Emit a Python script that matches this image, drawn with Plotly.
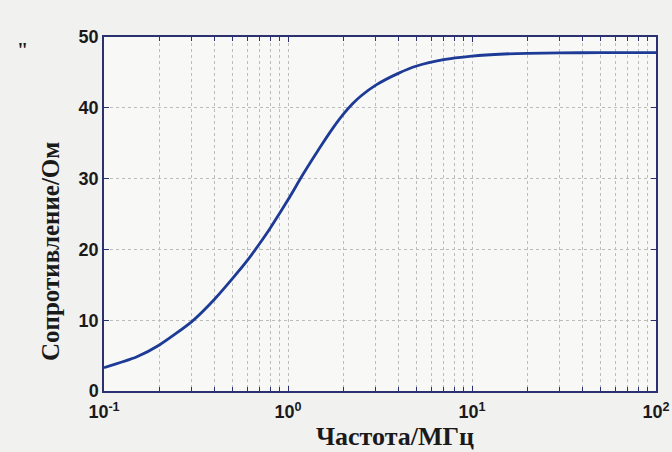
import plotly.graph_objects as go

freq_mhz = [0.1, 0.15, 0.2, 0.3, 0.4, 0.5, 0.6, 0.7, 0.8, 1.0, 1.2, 1.5, 1.75, 2.0,
            2.25, 2.5, 3.0, 4.0, 5.0, 7.0, 10, 15, 20, 30, 50, 100]
resist_ohm = [3.3, 4.8, 6.5, 9.8, 13.0, 15.9, 18.4, 20.8, 23.0, 27.0, 30.5, 34.5,
              37.1, 39.1, 40.6, 41.7, 43.2, 44.9, 45.9, 46.8, 47.3, 47.6, 47.7, 47.75,
              47.8, 47.8]

x_tickvals = [0.1, 1, 10, 100]
x_ticktext = ["10<sup>-1</sup>", "10<sup>0</sup>", "10<sup>1</sup>", "10<sup>2</sup>"]
x_minor = [m * d for d in [0.1, 1, 10] for m in range(2, 10)]
y_tickvals = [0, 10, 20, 30, 40, 50]

x_title = "Частота/МГц"
y_title = "Сопротивление/Ом"

frame = "#2b3070"
grid = "#bcbcbc"
serif = "Liberation Serif, Times New Roman, serif"
sans = "Liberation Sans, Arial, sans-serif"

fig = go.Figure()
fig.add_trace(go.Scatter(
    x=freq_mhz, y=resist_ohm, mode="lines",
    line=dict(color="#1c3a96", width=2.8, shape="spline", smoothing=0.6),
    showlegend=False, hoverinfo="skip"))

fig.update_layout(
    width=672, height=452,
    margin=dict(l=104, r=16, t=37, b=61),
    paper_bgcolor="#f1f1ef", plot_bgcolor="#f8f8f6",
    font=dict(family=sans, color="#1a1a1a"),
    xaxis=dict(
        type="log", range=[-1, 2],
        tickvals=x_tickvals, ticktext=x_ticktext,
        tickfont=dict(size=18, family=sans, weight="bold"),
        ticks="inside", ticklen=5, tickcolor=frame, ticklabelstandoff=4,
        showline=True, linecolor=frame, linewidth=1.5, mirror="ticks",
        showgrid=True, gridcolor=grid, griddash="dot", gridwidth=1,
        minor=dict(tickvals=x_minor, ticks="inside", ticklen=4, tickcolor=frame,
                   showgrid=True, gridcolor=grid, griddash="dot", gridwidth=1),
        zeroline=False, automargin=False,
    ),
    yaxis=dict(
        range=[0, 50], tickvals=y_tickvals,
        tickfont=dict(size=18, family=sans, weight="bold"),
        ticks="inside", ticklen=5, tickcolor=frame,
        showline=True, linecolor=frame, linewidth=1.5, mirror="ticks",
        showgrid=True, gridcolor=grid, griddash="dot", gridwidth=1,
        zeroline=False, automargin=False,
    ),
)

# axis titles (placed as annotations to match the reference offsets)
fig.add_annotation(text="<b>" + x_title + "</b>", xref="paper", yref="paper",
                   x=(395 - 104) / 552, y=(391 - 436) / 354,
                   xanchor="center", yanchor="middle", showarrow=False,
                   font=dict(size=26, family=serif, color="#1a1a1a"))
fig.add_annotation(text="<b>" + y_title + "</b>", xref="paper", yref="paper",
                   x=(50 - 104) / 552, y=(391 - 252) / 354, textangle=-90,
                   xanchor="center", yanchor="middle", showarrow=False,
                   font=dict(size=25, family=serif, color="#1a1a1a"))
fig.add_annotation(text="<b>\"</b>", xref="paper", yref="paper",
                   x=(23 - 104) / 552, y=(391 - 50) / 354,
                   xanchor="center", yanchor="middle", showarrow=False,
                   font=dict(size=20, family=serif, color="#1a1a1a"))

fig.write_html("out.html", config={"displayModeBar": False},
               post_script="document.body.style.margin='0px';")
